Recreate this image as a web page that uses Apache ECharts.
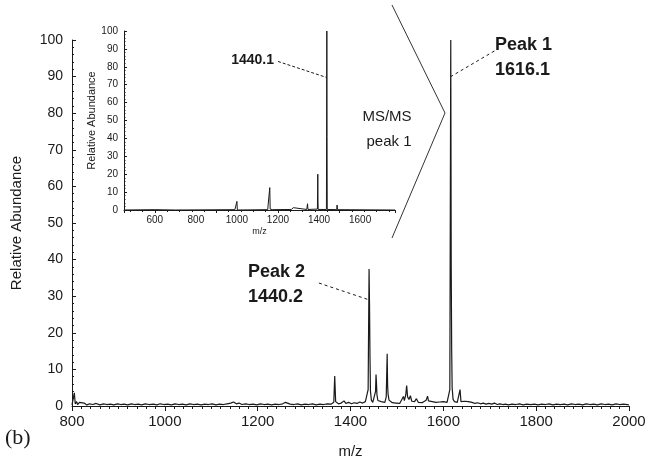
<!DOCTYPE html>
<html>
<head>
<meta charset="utf-8">
<script src="https://cdn.jsdelivr.net/npm/echarts@6/dist/echarts.min.js"></script>
<style>
  html, body { margin: 0; padding: 0; background: #fff; }
  #chart { width: 649px; height: 466px; }
</style>
</head>
<body>
<div id="chart"></div>
<script>
// main spectrum (m/z, relative abundance)
const mainMz = [800, 803, 805, 807, 810, 812, 816, 820, 826, 832, 838, 845, 852, 860, 868, 875, 883, 890, 898, 905,
  912, 920, 928, 935, 943, 950, 958, 966, 975, 983, 990, 998, 1006, 1014, 1022, 1030, 1038, 1046, 1054, 1062,
  1070, 1078, 1086, 1094, 1102, 1110, 1118, 1126, 1134, 1142, 1148, 1154, 1160, 1166, 1174, 1182, 1190, 1198, 1206, 1214,
  1222, 1230, 1238, 1246, 1254, 1260, 1264, 1270, 1278, 1286, 1294, 1302, 1310, 1318, 1326, 1334, 1342, 1350, 1358, 1364,
  1366, 1368, 1374, 1380, 1386, 1390, 1396, 1402, 1408, 1414, 1420, 1426, 1432, 1436, 1438, 1440, 1441, 1442, 1443, 1445,
  1448, 1452, 1454, 1455, 1456, 1457, 1459, 1462, 1466, 1470, 1474, 1477, 1479, 1480, 1481, 1483, 1486, 1490, 1494, 1498,
  1502, 1506, 1510, 1514, 1516, 1519, 1521, 1523, 1526, 1529, 1532, 1535, 1538, 1542, 1546, 1550, 1554, 1558, 1563, 1566,
  1568, 1572, 1576, 1580, 1584, 1588, 1592, 1596, 1600, 1604, 1608, 1612, 1614, 1616, 1617, 1618, 1619, 1621, 1624, 1627,
  1630, 1633, 1636, 1638, 1642, 1646, 1650, 1654, 1658, 1662, 1668, 1674, 1680, 1686, 1692, 1698, 1704, 1710, 1716, 1722,
  1728, 1734, 1740, 1748, 1756, 1764, 1772, 1780, 1788, 1796, 1804, 1812, 1820, 1828, 1836, 1844, 1852, 1860, 1868, 1876,
  1884, 1892, 1900, 1908, 1916, 1924, 1932, 1940, 1948, 1956, 1964, 1972, 1980, 1988, 1996, 2000]
const mainAbund = [0.3, 0.5, 3.6, 0.6, 1.2, 0.4, 1.0, 0.5, 0.8, 0.3, 0.6, 0.4, 0.7, 0.3, 0.6, 0.4, 0.5, 0.3, 0.6, 0.4,
  0.5, 0.3, 0.6, 0.4, 0.5, 0.3, 0.6, 0.4, 0.5, 0.3, 0.6, 0.4, 0.5, 0.3, 0.6, 0.4, 0.5, 0.3, 0.6, 0.4,
  0.5, 0.3, 0.5, 0.4, 0.6, 0.3, 0.5, 0.4, 0.6, 0.8, 1.1, 0.6, 0.8, 0.4, 0.6, 0.4, 0.5, 0.3, 0.6, 0.4,
  0.5, 0.3, 0.5, 0.4, 0.6, 1.0, 1.2, 0.5, 0.4, 0.6, 0.3, 0.5, 0.4, 0.6, 0.3, 0.5, 0.4, 0.6, 0.5, 1.0,
  8.2, 1.2, 0.6, 0.8, 1.4, 0.7, 1.0, 0.6, 0.9, 0.7, 1.1, 0.8, 1.2, 1.5, 4.5, 37.4, 27.5, 13.2, 4.0, 1.6,
  1.0, 1.4, 4.0, 8.6, 6.2, 3.0, 1.5, 1.0, 1.2, 0.8, 1.0, 2.5, 14.3, 5.5, 3.2, 1.6, 1.2, 0.9, 1.4, 0.8,
  1.0, 0.7, 1.2, 2.6, 1.5, 3.0, 5.6, 2.5, 1.8, 2.8, 1.3, 1.8, 1.2, 2.0, 1.0, 1.5, 0.9, 1.1, 1.6, 2.7,
  1.4, 0.9, 1.2, 0.8, 1.0, 0.7, 1.1, 0.9, 1.2, 0.8, 1.0, 1.5, 4.5, 100, 38.0, 15.0, 5.0, 1.8, 1.2, 1.6,
  1.0, 1.4, 4.5, 1.2, 1.0, 1.3, 0.9, 1.2, 0.8, 1.0, 0.7, 0.9, 0.6, 0.8, 0.5, 0.7, 0.5, 0.8, 0.4, 0.6,
  0.4, 0.5, 0.3, 0.5, 0.4, 0.6, 0.3, 0.5, 0.4, 0.5, 0.3, 0.5, 0.4, 0.6, 0.3, 0.5, 0.4, 0.5, 0.3, 0.6,
  0.4, 0.5, 0.3, 0.6, 0.4, 0.5, 0.3, 0.6, 0.4, 0.5, 0.3, 0.6, 0.4, 0.5, 0.4, 0.3]

// inset MS/MS spectrum of peak 1
const insetMz = [450, 600, 700, 990, 998, 1000, 1002, 1150, 1158, 1160, 1162, 1170, 1172, 1265, 1268, 1270, 1275, 1277,
  1340, 1344, 1346, 1392, 1394, 1395, 1396, 1436, 1438, 1439, 1440, 1486, 1488, 1490, 1770]
const insetAbund = [0, 0.2, 0, 0.2, 0, 4.8, 0, 0.2, 0.6, 12.5, 0.5, 0.8, 0.2, 0.3, 1.2, 0.3, 1.3, 0.3,
  0.3, 3.5, 0.3, 0.5, 20, 5, 0.3, 0.3, 100, 41, 0.3, 0.2, 2.8, 0.2, 0]

const mainXTicks = [800, 2000, 200]
const mainYTicks = [0, 100, 10]
const insetXRange = [450, 1770]
const insetXLabels = [600, 800, 1000, 1200, 1400, 1600]

const chartDom = document.getElementById('chart')
const chart = echarts.init(chartDom)
const FONT = '"Liberation Sans", Arial, sans-serif'
const NARROW = '"Liberation Sans Narrow", "Liberation Sans", Arial, sans-serif'
const INK = '#1a1a1a'

const toPairs = (xs, ys) => xs.map((x, i) => [x, ys[i]])
const plain = (v) => String(v)

let option = {
  animation: false,
  grid: [
    { left: 72, right: 20, top: 40, bottom: 60 },
    { left: 124, top: 31, width: 271, height: 179 }
  ],
  xAxis: [
    {
      gridIndex: 0, type: 'value', min: mainXTicks[0], max: mainXTicks[1], interval: mainXTicks[2],
      name: 'm/z', nameLocation: 'middle', nameGap: 38,
      nameTextStyle: { fontFamily: FONT, fontSize: 15, color: INK },
      axisLine: { lineStyle: { color: INK, width: 1 } },
      axisTick: { inside: false, length: 5, lineStyle: { color: INK } },
      minorTick: { show: true, splitNumber: 10, length: 3, lineStyle: { color: INK } },
      axisLabel: { fontFamily: FONT, fontSize: 15, color: INK, margin: 8, formatter: plain },
      splitLine: { show: false }
    },
    {
      gridIndex: 1, type: 'value', min: insetXRange[0], max: insetXRange[1],
      name: 'm/z', nameLocation: 'middle', nameGap: 17,
      nameTextStyle: { fontFamily: NARROW, fontSize: 9, color: INK },
      axisLine: { lineStyle: { color: INK, width: 1 } },
      axisTick: { inside: false, length: 3, lineStyle: { color: INK } },
      minorTick: { show: true, splitNumber: 5, length: 2, lineStyle: { color: INK } },
      axisLabel: {
        fontFamily: NARROW, fontSize: 10, color: INK, margin: 5,
        customValues: insetXLabels, formatter: plain
      },
      splitLine: { show: false }
    }
  ],
  yAxis: [
    {
      gridIndex: 0, type: 'value', min: mainYTicks[0], max: mainYTicks[1], interval: mainYTicks[2],
      name: 'Relative Abundance', nameLocation: 'middle', nameGap: 48,
      nameTextStyle: { fontFamily: FONT, fontSize: 15, color: INK },
      axisLine: { show: true, lineStyle: { color: INK, width: 1 } },
      axisTick: { show: true, inside: true, length: 4, lineStyle: { color: INK } },
      minorTick: { show: true, splitNumber: 5, length: 2, lineStyle: { color: INK } },
      axisLabel: { fontFamily: FONT, fontSize: 14, color: INK, margin: 9 },
      splitLine: { show: false }
    },
    {
      gridIndex: 1, type: 'value', min: 0, max: 100, interval: 10,
      name: 'Relative Abundance', nameLocation: 'middle', nameGap: 24,
      nameTextStyle: { fontFamily: NARROW, fontSize: 11, color: INK },
      axisLine: { show: true, lineStyle: { color: INK, width: 1 } },
      axisTick: { show: true, inside: true, length: 3, lineStyle: { color: INK } },
      minorTick: { show: true, splitNumber: 5, length: 1.5, lineStyle: { color: INK } },
      axisLabel: { fontFamily: NARROW, fontSize: 10, color: INK, margin: 6 },
      splitLine: { show: false }
    }
  ],
  series: [
    {
      type: 'line', xAxisIndex: 0, yAxisIndex: 0,
      data: toPairs(mainMz, mainAbund),
      showSymbol: false, sampling: 'none',
      lineStyle: { color: INK, width: 1.2 },
      markLine: {
        silent: true, symbol: 'none',
        lineStyle: { type: [3, 3], color: INK, width: 1 },
        label: { show: false },
        data: [
          [{ coord: [1332, 33.6] }, { coord: [1440, 29] }],
          [{ coord: [1710, 97] }, { coord: [1616, 90] }]
        ]
      }
    },
    {
      type: 'line', xAxisIndex: 1, yAxisIndex: 1,
      data: toPairs(insetMz, insetAbund),
      showSymbol: false, sampling: 'none',
      lineStyle: { color: INK, width: 1 },
      markLine: {
        silent: true, symbol: 'none',
        lineStyle: { type: [3, 2], color: INK, width: 1 },
        label: { show: false },
        data: [
          [{ coord: [1200, 83] }, { coord: [1438, 74] }]
        ]
      }
    }
  ],
  graphic: [
    {
      type: 'polyline', silent: true,
      shape: { points: [[392, 5], [445, 113], [392, 238]] },
      style: { stroke: '#333', lineWidth: 1, fill: null }
    },
    { type: 'text', x: 387, y: 117, style: { text: 'MS/MS', font: '15px ' + FONT, fill: INK, align: 'center', verticalAlign: 'middle' } },
    { type: 'text', x: 389, y: 142, style: { text: 'peak 1', font: '15px ' + FONT, fill: INK, align: 'center', verticalAlign: 'middle' } },
    { type: 'text', x: 495, y: 45, style: { text: 'Peak 1', font: 'bold 18px ' + FONT, fill: INK, align: 'left', verticalAlign: 'middle' } },
    { type: 'text', x: 495, y: 70, style: { text: '1616.1', font: 'bold 18px ' + FONT, fill: INK, align: 'left', verticalAlign: 'middle' } },
    { type: 'text', x: 248, y: 272, style: { text: 'Peak 2', font: 'bold 18px ' + FONT, fill: INK, align: 'left', verticalAlign: 'middle' } },
    { type: 'text', x: 248, y: 297, style: { text: '1440.2', font: 'bold 18px ' + FONT, fill: INK, align: 'left', verticalAlign: 'middle' } },
    { type: 'text', x: 274, y: 60, style: { text: '1440.1', font: 'bold 14px ' + FONT, fill: INK, align: 'right', verticalAlign: 'middle' } },
    { type: 'text', x: 5, y: 438, style: { text: '(b)', font: '22px "Liberation Serif", "DejaVu Serif", serif', fill: INK, align: 'left', verticalAlign: 'middle' } }
  ]
}
chart.setOption(option)
</script>
</body>
</html>
